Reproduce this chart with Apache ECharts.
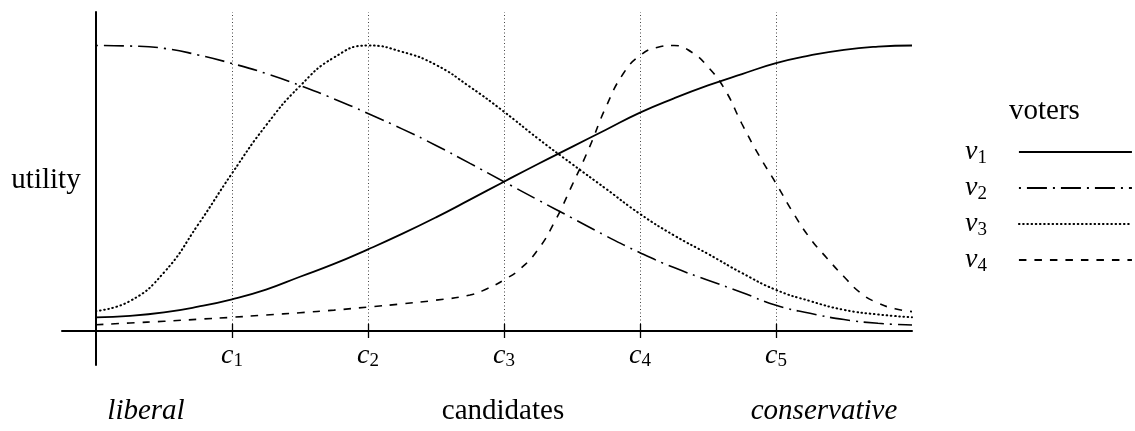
<!DOCTYPE html>
<html>
<head>
<meta charset="utf-8">
<script src="https://cdn.jsdelivr.net/npm/echarts@6/dist/echarts.min.js"></script>
<style>
  html, body { margin: 0; padding: 0; background: #fff; }
  #chart { width: 1135px; height: 431px; }
</style>
</head>
<body>
<div id="chart"></div>
<script>
// ---- data ----
const positions = [0, 0.25, 0.5, 0.75, 1, 1.25, 1.5, 1.75, 2, 2.25, 2.5, 2.75, 3,
                   3.25, 3.5, 3.75, 4, 4.25, 4.5, 4.75, 5, 5.25, 5.5, 5.75, 6];
const v1Values = [0.048, 0.053, 0.065, 0.085, 0.111, 0.145, 0.19, 0.235, 0.286, 0.34, 0.398, 0.46, 0.523,
                  0.585, 0.645, 0.705, 0.765, 0.815, 0.86, 0.9, 0.938, 0.965, 0.985, 0.996, 1.0];
const v2Values = [1.0, 0.998, 0.99, 0.967, 0.937, 0.902, 0.86, 0.813, 0.762, 0.708, 0.65, 0.587, 0.523,
                  0.459, 0.396, 0.333, 0.274, 0.222, 0.178, 0.135, 0.09, 0.062, 0.04, 0.027, 0.021];
const v3Values = [0.07, 0.105, 0.205, 0.372, 0.552, 0.72, 0.858, 0.958, 1.0, 0.978, 0.932, 0.855, 0.768,
                  0.674, 0.585, 0.498, 0.41, 0.335, 0.27, 0.203, 0.144, 0.105, 0.074, 0.058, 0.048];
const v4Positions = [0, 0.25, 0.5, 0.75, 1, 1.25, 1.5, 1.75, 2, 2.25, 2.5, 2.75,
                     2.875, 3, 3.125, 3.25, 3.375, 3.5, 3.625, 3.75, 3.875, 4, 4.125, 4.25, 4.375,
                     4.5, 4.625, 4.75, 4.875, 5, 5.125, 5.25, 5.375, 5.5, 5.625, 5.75, 5.875, 6];
const v4Values = [0.022, 0.028, 0.034, 0.041, 0.048, 0.056, 0.064, 0.073, 0.084, 0.095, 0.108, 0.126,
                  0.148, 0.179, 0.22, 0.285, 0.385, 0.51, 0.64, 0.785, 0.9, 0.965, 0.993, 1.0, 0.978,
                  0.925, 0.845, 0.725, 0.615, 0.517, 0.415, 0.325, 0.255, 0.19, 0.132, 0.098, 0.078, 0.068];
const candidatePositions = [1, 2, 3, 4, 5];
const candidateSubscripts = ['1', '2', '3', '4', '5'];
const voterNames = ['v1', 'v2', 'v3', 'v4'];
const voterSubscripts = ['1', '2', '3', '4'];

// ---- chart ----
const FONT = '"Liberation Serif", "DejaVu Serif", serif';
const X_MIN = -0.25, X_MAX = 6;
const Y_MIN = -0.1191, Y_MAX = 1.1173;
const TICK_HALF = 0.0245;

function pairs(xs, ys) { return xs.map((x, i) => [x, ys[i]]); }

const richStyles = {
  v: { fontFamily: FONT, fontSize: 28, fontStyle: 'italic', color: '#000' },
  s: { fontFamily: FONT, fontSize: 19, color: '#000', padding: [12, 0, 0, 0] }
};

const chart = echarts.init(document.getElementById('chart'), null, { renderer: 'canvas' });

const baseLine = { color: '#000', width: 1.6 };

chart.setOption({
  animation: false,
  backgroundColor: '#fff',
  title: {
    text: 'voters', left: 1009, top: 97, padding: 0,
    textStyle: { fontFamily: FONT, fontSize: 29, fontWeight: 'normal', color: '#000' }
  },
  legend: {
    orient: 'vertical', left: 960, top: 133, align: 'right',
    itemWidth: 113, itemHeight: 14, itemGap: 6.5, selectedMode: false,
    itemStyle: { opacity: 0 },
    data: voterNames,
    formatter: name => '{v|v}{s|' + voterSubscripts[voterNames.indexOf(name)] + '}',
    textStyle: { padding: [0, 27, 0, 0], rich: richStyles }
  },
  grid: { left: 62, top: 12, width: 850, height: 353, containLabel: false },
  xAxis: {
    type: 'value', min: X_MIN, max: X_MAX,
    axisLine: { show: true, onZero: true, lineStyle: { color: '#000', width: 2 } },
    axisTick: { show: false },
    splitLine: { show: false },
    axisLabel: {
      show: true, customValues: candidatePositions, margin: -25,
      formatter: v => '{v|c}{s|' + candidateSubscripts[candidatePositions.indexOf(v)] + '}',
      rich: richStyles
    }
  },
  yAxis: {
    type: 'value', min: Y_MIN, max: Y_MAX,
    axisLine: { show: true, onZero: true, lineStyle: { color: '#000', width: 2 } },
    axisTick: { show: false }, axisLabel: { show: false }, splitLine: { show: false }
  },
  graphic: [
    { type: 'text', style: { text: 'utility', x: 46, y: 180, textAlign: 'center', textVerticalAlign: 'middle',
      font: '29px ' + FONT, fill: '#000' } },
    { type: 'text', style: { text: 'liberal', x: 146, y: 411, textAlign: 'center', textVerticalAlign: 'middle',
      font: 'italic 29px ' + FONT, fill: '#000' } },
    { type: 'text', style: { text: 'candidates', x: 503, y: 411, textAlign: 'center', textVerticalAlign: 'middle',
      font: '29px ' + FONT, fill: '#000' } },
    { type: 'text', style: { text: 'conservative', x: 824, y: 411, textAlign: 'center', textVerticalAlign: 'middle',
      font: 'italic 29px ' + FONT, fill: '#000' } }
  ],
  series: [
    {
      name: 'v1', type: 'line', data: pairs(positions, v1Values), smooth: 0.5,
      symbol: 'none', showSymbol: false, z: 3, itemStyle: { color: '#000' },
      lineStyle: Object.assign({}, baseLine, { type: 'solid', width: 1.8 }),
      markLine: {
        silent: true, symbol: ['none', 'none'], label: { show: false }, z: 1,
        lineStyle: { color: '#444', width: 1, type: [1, 2.5] },
        data: candidatePositions.map(c => [{ coord: [c, 0] }, { coord: [c, Y_MAX] }])
      }
    },
    {
      name: 'v2', type: 'line', data: pairs(positions, v2Values), smooth: 0.5,
      symbol: 'none', showSymbol: false, z: 3, itemStyle: { color: '#000' },
      lineStyle: Object.assign({}, baseLine, { type: [2, 6, 20, 6] }),
      markLine: {
        silent: true, symbol: ['none', 'none'], label: { show: false }, z: 2,
        lineStyle: { color: '#000', width: 1.3, type: 'solid' },
        data: candidatePositions.map(c => [{ coord: [c, -TICK_HALF] }, { coord: [c, TICK_HALF] }])
      }
    },
    {
      name: 'v3', type: 'line', data: pairs(positions, v3Values), smooth: 0.5,
      symbol: 'none', showSymbol: false, z: 3, itemStyle: { color: '#000' },
      lineStyle: Object.assign({}, baseLine, { type: [0.6, 3.6], width: 2, cap: 'round' })
    },
    {
      name: 'v4', type: 'line', data: pairs(v4Positions, v4Values), smooth: 0.5,
      symbol: 'none', showSymbol: false, z: 3, itemStyle: { color: '#000' },
      lineStyle: Object.assign({}, baseLine, { type: [7.5, 8] })
    }
  ]
});
</script>
</body>
</html>
